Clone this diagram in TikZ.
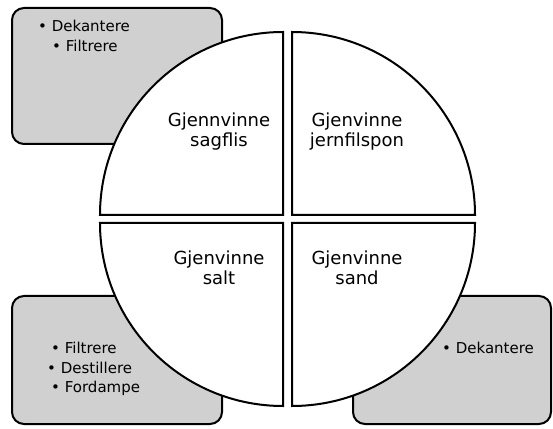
\documentclass[tikz,border=0pt]{standalone}
\usepackage{fontspec}
\setmainfont{DejaVu Sans}
\definecolor{boxgray}{RGB}{208,208,208}
\tikzset{
  listbox/.style={draw=black,fill=boxgray,line width=2pt,rounded corners=12pt},
  quadrant/.style={draw=black,fill=white,line width=2pt},
  quadtext/.style={font=\fontsize{18}{20}\selectfont,align=center,anchor=base,inner sep=0pt},
  itemtext/.style={font=\fontsize{15}{20}\selectfont,anchor=base west,inner sep=0pt}
}
\begin{document}
\begin{tikzpicture}[x=1pt,y=1pt]
\useasboundingbox (0,0) rectangle (553,428);
% background boxes
\draw[listbox] (12,284) rectangle (222,420);
\draw[listbox] (12,4) rectangle (222,132);
\draw[listbox] (353,4) rectangle (551,132);
% quarters of the circle
\draw[quadrant] (283,213) -- (100,213) arc[start angle=180,end angle=90,radius=183] -- cycle;
\draw[quadrant] (292,213) -- (292,396) arc[start angle=90,end angle=0,radius=183] -- cycle;
\draw[quadrant] (283,205) -- (283,22) arc[start angle=270,end angle=180,radius=183] -- cycle;
\draw[quadrant] (292,205) -- (475,205) arc[start angle=0,end angle=-90,radius=183] -- cycle;
% texts
\node[quadtext] (sagflis) at (219,281) {Gjennvinne\\sagflis};
\node[quadtext] (jern) at (357,281) {Gjenvinne\\jernfilspon};
\node[quadtext] (salt) at (219,143) {Gjenvinne\\salt};
\node[quadtext] (sand) at (357,143) {Gjenvinne\\sand};
\node[itemtext] (tl1) at (38,396) {• Dekantere};
\node[itemtext] (tl2) at (52,376) {• Filtrere};
\node[itemtext] (bl1) at (51,75) {• Filtrere};
\node[itemtext] (bl2) at (47,55) {• Destillere};
\node[itemtext] (bl3) at (51,36) {• Fordampe};
\node[itemtext] (br1) at (442,75) {• Dekantere};
\end{tikzpicture}
\end{document}
